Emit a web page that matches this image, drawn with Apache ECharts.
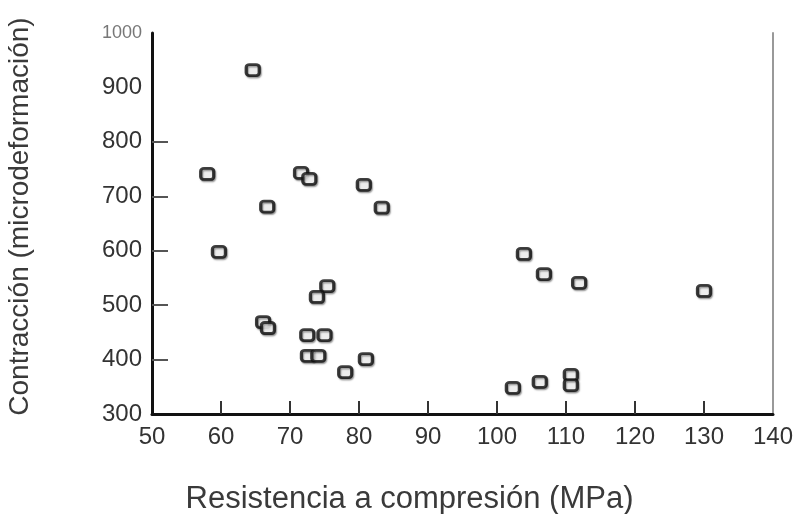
<!DOCTYPE html>
<html>
<head>
<meta charset="utf-8">
<script src="https://cdn.jsdelivr.net/npm/echarts@6/dist/echarts.min.js"></script>
<style>html,body{margin:0;padding:0;background:#fff}#c{width:798px;height:514px}</style>
</head>
<body>
<div id="c"></div>
<script>
const resistencia = [64.6, 58.0, 66.7, 71.6, 72.8, 80.7, 83.3, 59.7, 75.4, 73.9, 66.1, 66.8, 72.5, 75.0, 72.6, 74.1, 78.0, 81.0, 103.9, 106.8, 111.9, 130.0, 102.3, 106.2, 110.7, 110.7];
const contraccion = [932, 741, 681, 743, 732, 721, 679, 598, 535, 515, 469, 458, 445, 445, 407, 407, 377, 401, 594, 557, 541, 526, 348, 359, 372, 353];
const xTicks = [50, 60, 70, 80, 90, 100, 110, 120, 130, 140];
const yTicks = [300, 400, 500, 600, 700, 800, 900, 1000];

const points = resistencia.map((x, i) => [x, contraccion[i]]);
const chart = echarts.init(document.getElementById('c'));
chart.setOption({
  animation: false,
  grid: { left: 152, right: 25, top: 33, bottom: 100, containLabel: false, outerBoundsMode: 'none' },
  xAxis: {
    type: 'value', min: 50, max: 140, interval: 10,
    name: 'Resistencia a compresión (MPa)', nameLocation: 'middle', nameGap: 70,
    nameTextStyle: { fontFamily: 'Liberation Sans, Arial, sans-serif', fontSize: 31, color: '#3a3a3a', padding: [0, 106, 0, 0] },
    axisLine: { show: true, onZero: false, lineStyle: { color: '#111', width: 3 } },
    axisTick: { show: true, inside: true, length: 13, customValues: xTicks.slice(1, -1), lineStyle: { color: '#333', width: 2 } },
    axisLabel: { customValues: xTicks, margin: 11, fontFamily: 'Liberation Sans, Arial, sans-serif', fontSize: 24, color: '#333' },
    splitLine: { show: false }
  },
  yAxis: [{
    type: 'value', min: 300, max: 1000, interval: 100,
    name: 'Contracción (microdeformación)', nameLocation: 'middle', nameGap: 118, nameRotate: 90,
    nameTextStyle: { fontFamily: 'Liberation Sans, Arial, sans-serif', fontSize: 28, color: '#3a3a3a', padding: [0, 0, 0, 14] },
    axisLine: { show: true, lineStyle: { color: '#111', width: 3 } },
    axisTick: { show: true, inside: true, length: 16, customValues: yTicks.slice(1, 6), lineStyle: { color: '#555', width: 2 } },
    axisLabel: {
      customValues: yTicks, margin: 10, fontFamily: 'Liberation Sans, Arial, sans-serif', fontSize: 24, color: '#333',
      formatter: v => v === 1000 ? '{s|' + v + '}' : String(v),
      rich: { s: { fontSize: 18, color: '#777', fontFamily: 'Liberation Sans, Arial, sans-serif' } }
    },
    splitLine: { show: false }
  }, {
    type: 'value', min: 300, max: 1000, position: 'right',
    axisLine: { show: true, lineStyle: { color: '#999', width: 2 } },
    axisTick: { show: false }, axisLabel: { show: false }, splitLine: { show: false }
  }],
  series: [{
    type: 'scatter',
    data: points,
    symbol: 'roundRect',
    symbolSize: [13, 11],
    itemStyle: {
      color: '#fff', borderColor: '#111', borderWidth: 3,
      shadowColor: 'rgba(0,0,0,0.45)', shadowOffsetX: 1, shadowOffsetY: 1.5, shadowBlur: 1.5
    }
  }]
});
</script>
</body>
</html>
